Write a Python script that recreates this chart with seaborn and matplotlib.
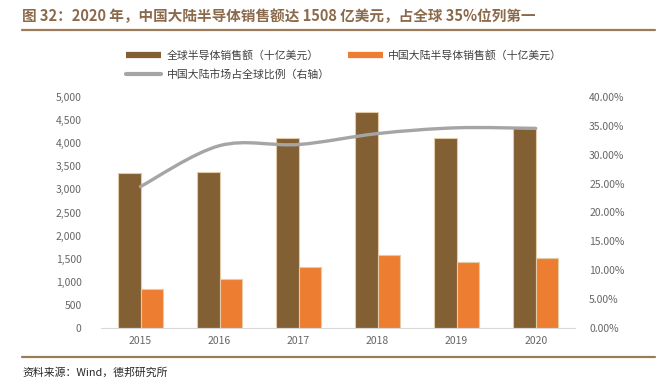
import numpy as np
import pandas as pd
import seaborn as sns
import matplotlib.pyplot as plt
from matplotlib.path import Path
from matplotlib.patches import PathPatch
from matplotlib.lines import Line2D
from matplotlib.ticker import FuncFormatter

# data
years = ["2015", "2016", "2017", "2018", "2019", "2020"]
global_sales = [3350, 3385, 4120, 4685, 4120, 4330]      # 十亿美元
china_sales = [835, 1065, 1325, 1585, 1430, 1508]        # 十亿美元
china_share = [24.5, 31.6, 31.8, 33.7, 34.7, 34.6]       # %

name_global = "全球半导体销售额（十亿美元）"
name_china = "中国大陆半导体销售额（十亿美元）"
name_share = "中国大陆市场占全球比例（右轴）"

c_global = "#835F34"
c_china = "#ED7D31"
c_share = "#A5A5A5"
c_title = "#8B6A4C"
c_tick = "#666666"

sns.set_style("white")
plt.rcParams["font.family"] = ["Noto Sans CJK SC", "DejaVu Sans"]

df = pd.DataFrame({
    "year": years * 2,
    "value": global_sales + china_sales,
    "series": [name_global] * len(years) + [name_china] * len(years),
})

fig = plt.figure(figsize=(6.67, 3.86), dpi=100)
ax = fig.add_axes([0.1514, 0.151, 0.711, 0.597])

sns.barplot(data=df, x="year", y="value", hue="series",
            palette=[c_global, c_china], saturation=1, width=0.57, ax=ax,
            edgecolor="#E3CBA8", linewidth=0.8, legend=False)

ax.set_xlim(-0.5, len(years) - 0.5)
ax.set_ylim(0, 5000)
ax.set_yticks(np.arange(0, 5001, 500))
ax.yaxis.set_major_formatter(FuncFormatter(lambda v, p: f"{int(v):,}"))
ax.set_xlabel("")
ax.set_ylabel("")
for s in ["top", "left", "right"]:
    ax.spines[s].set_visible(False)
ax.spines["bottom"].set_color("#D9D9D9")
ax.spines["bottom"].set_bounds(-0.5, len(years) - 0.5)
ax.tick_params(axis="both", length=0, labelsize=7.5, labelcolor=c_tick)
ax.tick_params(axis="y", pad=14)
ax.tick_params(axis="x", pad=6)

# right axis: share line (smoothed like the Excel original)
ax2 = ax.twinx()
ax2.set_ylim(0, 40)
ax2.set_yticks(np.arange(0, 40.1, 5))
ax2.yaxis.set_major_formatter(FuncFormatter(lambda v, p: f"{v:.2f}%"))
for s in ["top", "left", "right", "bottom"]:
    ax2.spines[s].set_visible(False)
ax2.tick_params(axis="y", length=0, labelsize=7.5, labelcolor=c_tick, pad=10)

xs = np.arange(len(years), dtype=float)
ys = np.array(china_share, dtype=float)
px = np.concatenate([[xs[0]], xs, [xs[-1]]])
py = np.concatenate([[ys[0]], ys, [ys[-1]]])
verts = [(xs[0], ys[0])]
codes = [Path.MOVETO]
for i in range(1, len(px) - 2):
    c1 = (px[i] + (px[i + 1] - px[i - 1]) / 6, py[i] + (py[i + 1] - py[i - 1]) / 6)
    c2 = (px[i + 1] - (px[i + 2] - px[i]) / 6, py[i + 1] - (py[i + 2] - py[i]) / 6)
    verts += [c1, c2, (px[i + 1], py[i + 1])]
    codes += [Path.CURVE4] * 3
ax2.add_patch(PathPatch(Path(verts, codes), facecolor="none",
                        edgecolor=c_share, lw=2.4, capstyle="round"))

# legend
handles = [
    Line2D([], [], color=c_global, lw=4.5, solid_capstyle="butt"),
    Line2D([], [], color=c_share, lw=3, solid_capstyle="round"),
    Line2D([], [], color=c_china, lw=4.5, solid_capstyle="butt"),
]
labels = [name_global, name_share, name_china]
fig.legend(handles, labels, loc="upper left", bbox_to_anchor=(0.175, 0.895),
           ncol=2, frameon=False, fontsize=7.8, handlelength=3.2,
           handletextpad=0.5, columnspacing=1.7, labelspacing=0.75,
           labelcolor="#404040")

# title, rules and source
fig.text(0.033, 0.958, "图 32：2020 年，中国大陆半导体销售额达 1508 亿美元，占全球 35%位列第一",
         fontsize=10.5, fontweight="bold", color=c_title, va="center")
fig.add_artist(Line2D([0.033, 0.982], [0.922, 0.922], color="#9C7B5B", lw=1.6))
fig.add_artist(Line2D([0.033, 0.982], [0.075, 0.075], color="#9C7B5B", lw=1.6))
fig.text(0.033, 0.035, "资料来源：Wind，德邦研究所", fontsize=7.8,
         color="#262626", va="center")

fig.savefig("out.png", dpi=100)
